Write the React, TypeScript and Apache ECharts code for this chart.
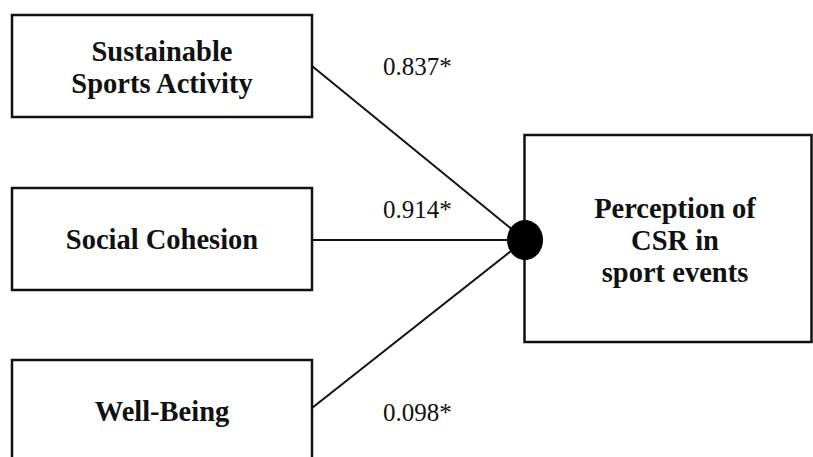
import React, { useEffect, useRef } from "react";
import * as echarts from "echarts";

// ---- Data ----
const sourceNodes: string[] = ["Sustainable\nSports Activity", "Social Cohesion", "Well-Being"];
const targetNode = "Perception of\nCSR in\nsport events";
const pathCoefficients: number[] = [0.837, 0.914, 0.098];
const significanceMarks: string[] = ["*", "*", "*"];

// ---- Layout (positions only) ----
const W = 813;
const H = 457;
const sourceBoxes = [
  { x: 12, y: 15, w: 300, h: 102, anchorY: 66, textY: 67 },
  { x: 12, y: 188, w: 300, h: 102, anchorY: 240, textY: 239 },
  { x: 12, y: 360, w: 300, h: 130, anchorY: 408, textY: 411 },
];
const labelPos = [
  { x: 383, y: 66 },
  { x: 383, y: 209 },
  { x: 383, y: 412 },
];
const targetBox = { x: 524.5, y: 135, w: 287, h: 207, textX: 675, textY: 240 };
const hub = { cx: 525, cy: 240, rx: 18, ry: 20 };

export default function App() {
  const ref = useRef<HTMLDivElement>(null);
  useEffect(() => {
    if (!ref.current) return;
    const chart = echarts.init(ref.current, null, { renderer: "svg" });
    const els: any[] = [];
    const ink = "#111";
    // connector lines
    sourceBoxes.forEach((b) => {
      els.push({
        type: "line",
        z: 1,
        shape: { x1: b.x + b.w, y1: b.anchorY, x2: hub.cx, y2: hub.cy },
        style: { stroke: ink, lineWidth: 2 },
      });
    });
    // source boxes
    sourceBoxes.forEach((b, i) => {
      els.push({
        type: "rect",
        z: 2,
        shape: { x: b.x, y: b.y, width: b.w, height: b.h },
        style: { fill: "#fff", stroke: ink, lineWidth: 2.5 },
      });
      els.push({
        type: "text",
        z: 3,
        x: b.x + b.w / 2,
        y: b.textY,
        style: {
          text: sourceNodes[i],
          font: 'bold 28.5px "Liberation Serif", serif',
          fill: ink,
          align: "center",
          verticalAlign: "middle",
          lineHeight: 32,
        },
      });
    });
    // coefficient labels
    pathCoefficients.forEach((v, i) => {
      els.push({
        type: "text",
        z: 3,
        x: labelPos[i].x,
        y: labelPos[i].y,
        style: {
          text: v.toFixed(3) + significanceMarks[i],
          font: '25px "Liberation Serif", serif',
          fill: ink,
          align: "left",
          verticalAlign: "middle",
        },
      });
    });
    // target box
    els.push({
      type: "rect",
      z: 2,
      shape: { x: targetBox.x, y: targetBox.y, width: targetBox.w, height: targetBox.h },
      style: { fill: "#fff", stroke: ink, lineWidth: 2.5 },
    });
    els.push({
      type: "text",
      z: 3,
      x: targetBox.textX,
      y: targetBox.textY,
      style: {
        text: targetNode,
        font: 'bold 28.5px "Liberation Serif", serif',
        fill: ink,
        align: "center",
        verticalAlign: "middle",
        lineHeight: 32,
      },
    });
    // hub dot
    els.push({
      type: "ellipse",
      z: 4,
      shape: { cx: hub.cx, cy: hub.cy, rx: hub.rx, ry: hub.ry },
      style: { fill: "#000" },
    });
    chart.setOption({
      animation: false,
      backgroundColor: "#fff",
      graphic: { elements: els },
    });
    return () => chart.dispose();
  }, []);
  return (
    <div
      ref={ref}
      style={{ position: "fixed", left: 0, top: 0, width: W, height: H, background: "#fff" }}
    />
  );
}
